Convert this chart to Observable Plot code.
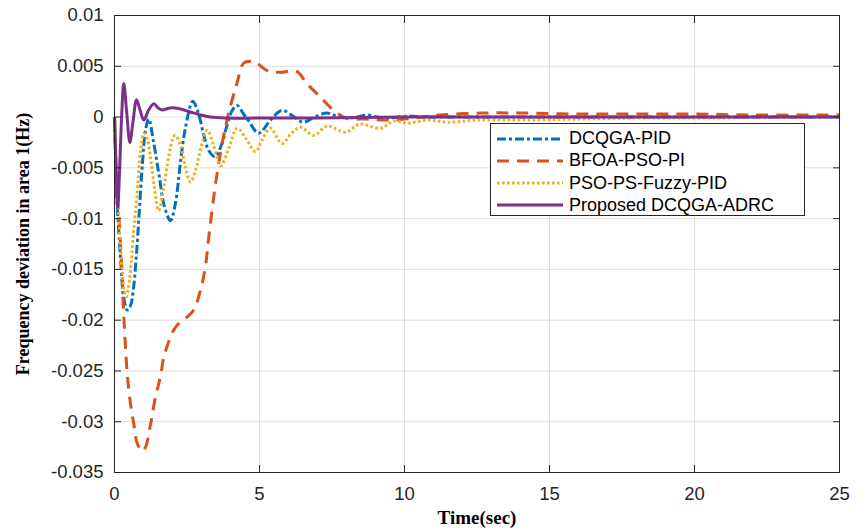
<!DOCTYPE html>
<html>
<head>
<meta charset="utf-8">
<script src="https://cdn.jsdelivr.net/npm/d3@7"></script>
<script src="https://cdn.jsdelivr.net/npm/@observablehq/plot@0.6"></script>
<style>
  html, body { margin: 0; padding: 0; background: #fff; overflow: hidden; }
  #wrap { position: relative; width: 867px; height: 528px; }
  #legend { position: absolute; left: 490px; top: 123px; width: 315px; height: 93px;
            border: 1px solid #262626; background: #fff; box-sizing: border-box;
            font-family: "Liberation Sans", Arial, sans-serif; font-size: 18px; color: #000; }
  .row { position: absolute; left: 0; height: 22px; display: flex; align-items: center; }
  .row svg { margin-left: 6px; margin-right: 6px; }
</style>
</head>
<body>
<div id="wrap">
  <div id="chart"></div>
  <div id="legend"></div>
</div>
<script>
// ---- Data ----
const seriesNames = ["DCQGA-PID", "BFOA-PSO-PI", "PSO-PS-Fuzzy-PID", "Proposed DCQGA-ADRC"];

const tBlue = [0, 0.09, 0.2, 0.32, 0.44, 0.55, 0.65, 0.75, 0.85, 0.96, 1.07, 1.18, 1.35, 1.53, 1.72, 1.93, 2.1, 2.28, 2.45, 2.7, 2.9, 3.08, 3.25, 3.47, 3.68, 3.88, 4.05, 4.22, 4.45, 4.63, 4.97, 5.38, 5.77, 6.15, 6.51, 6.9, 7.32, 7.65, 8.0, 8.35, 8.7, 9.05, 9.4, 9.8, 10.2, 10.6, 11, 12, 14, 16, 18, 20, 22, 25];
const vBlue = [0, -0.0084, -0.0135, -0.0178, -0.019, -0.0186, -0.017, -0.0138, -0.0095, -0.0047, -0.0013, -0.0002, -0.0025, -0.0056, -0.0088, -0.0102, -0.0085, -0.0043, -0.001, 0.00155, 0.0003, -0.0018, -0.0033, -0.0039, -0.0028, -0.0008, 0.0006, 0.00115, 0.0003, -0.0004, -0.0016, -0.0003, 0.00066, 0.0001, -0.0005, 0.0, 0.0004, 0.0001, -0.0001, 0.0, 0.0002, 0.0, -0.0001, 0.0, 0.0001, 0.0, 0, 0, 0, 0, 0, 0, 0, 0];

const tOrange = [0, 0.05, 0.14, 0.25, 0.32, 0.44, 0.55, 0.67, 0.78, 0.95, 1.07, 1.24, 1.41, 1.58, 1.7, 1.81, 1.98, 2.16, 2.5, 2.73, 2.96, 3.13, 3.24, 3.42, 3.59, 3.76, 3.99, 4.22, 4.45, 4.68, 4.91, 5.25, 5.71, 6.28, 6.63, 7.09, 7.54, 8.0, 8.7, 9.5, 10.3, 11.2, 12.7, 14, 16, 18, 20, 22, 25];
const vOrange = [0, -0.005, -0.0092, -0.0148, -0.0195, -0.0253, -0.0282, -0.0303, -0.0321, -0.0329, -0.0325, -0.0303, -0.0276, -0.0256, -0.0236, -0.0226, -0.0213, -0.0205, -0.0197, -0.019, -0.0171, -0.0148, -0.0121, -0.0079, -0.0046, -0.0019, 0.001, 0.0033, 0.0053, 0.0055, 0.0053, 0.0046, 0.0044, 0.0045, 0.0033, 0.002, 0.0007, -0.0001, -0.0002, -0.0003, -0.0001, 0.0002, 0.0004, 0.0004, 0.0003, 0.0003, 0.0003, 0.0002, 0.0002];

const tYellow = [0, 0.08, 0.17, 0.26, 0.33, 0.4, 0.48, 0.57, 0.66, 0.77, 0.9, 1.01, 1.13, 1.25, 1.36, 1.52, 1.7, 1.87, 1.99, 2.1, 2.3, 2.45, 2.62, 2.8, 3.0, 3.2, 3.42, 3.66, 3.95, 4.23, 4.55, 4.86, 5.1, 5.37, 5.78, 6.1, 6.41, 6.87, 7.33, 7.97, 8.45, 9.17, 9.63, 10.1, 10.8, 11.5, 12.5, 14, 16, 18, 20, 25];
const vYellow = [0, -0.006, -0.011, -0.015, -0.0171, -0.0177, -0.0168, -0.0145, -0.0112, -0.0079, -0.0033, -0.0016, -0.0022, -0.0042, -0.0066, -0.0092, -0.0069, -0.0039, -0.0023, -0.0018, -0.003, -0.005, -0.0064, -0.0052, -0.0028, -0.0013, -0.0028, -0.0048, -0.003, -0.0011, -0.0022, -0.0034, -0.0022, -0.0011, -0.0026, -0.0016, -0.001, -0.0018, -0.0009, -0.0015, -0.0007, -0.0011, -0.0004, -0.0006, -0.0003, -0.0005, -0.0003, -0.0003, -0.0002, -0.0001, -0.0001, 0];

const tPurple = [0, 0.05, 0.11, 0.18, 0.25, 0.32, 0.42, 0.53, 0.64, 0.76, 0.88, 1.01, 1.18, 1.36, 1.5, 1.64, 1.93, 2.28, 2.62, 2.97, 3.3, 3.8, 5, 7, 10, 14, 20, 25];
const vPurple = [0, -0.0045, -0.0089, -0.0049, 0.0003, 0.0033, 0.0005, -0.0025, -0.0004, 0.0017, 0.0007, -0.0003, 0.0007, 0.0013, 0.0009, 0.0007, 0.0009, 0.0008, 0.0005, 0.0002, 0.0, -0.0001, -0.0001, -0.0001, 0, 0, 0, 0];

const xTicks = [0, 5, 10, 15, 20, 25];
const yTicks = [-0.035, -0.03, -0.025, -0.02, -0.015, -0.01, -0.005, 0, 0.005, 0.01];

// ---- Styles ----
const colors = ["#0072BD", "#D95319", "#EDB120", "#7E2F8E"];
const dashes = ["9,3,3,3", "12,8", "2.6,2.4", null];
const widths = [3, 3, 3, 3];

const tArr = [tBlue, tOrange, tYellow, tPurple];
const vArr = [vBlue, vOrange, vYellow, vPurple];
const tables = tArr.map((ts, i) => ts.map((t, j) => ({t, v: vArr[i][j]})));

const fmtY = d => d === 0 ? "0" : String(+d.toFixed(4));
const serif = "'Liberation Serif', 'Times New Roman', serif";

const chart = Plot.plot({
  width: 867,
  height: 528,
  marginLeft: 114,
  marginRight: 28,
  marginTop: 15,
  marginBottom: 56,
  style: {fontFamily: "'Liberation Sans', Arial, sans-serif", fontSize: "18px", color: "#262626", background: "#fff"},
  x: {domain: [0, 25]},
  y: {domain: [-0.035, 0.01]},
  marks: [
    Plot.gridX(xTicks, {stroke: "#dedede", strokeOpacity: 1}),
    Plot.gridY(yTicks, {stroke: "#dedede", strokeOpacity: 1}),
    ...tables.map((data, i) => Plot.line(data, {
      x: "t", y: "v", stroke: colors[i], strokeWidth: widths[i],
      strokeDasharray: dashes[i], curve: "catmull-rom", strokeLinecap: "butt"
    })),
    Plot.frame({stroke: "#262626", strokeWidth: 1}),
    Plot.axisX(xTicks, {anchor: "bottom", tickSize: -7, tickPadding: 21, tickFormat: d => String(d), label: null, fontSize: 18.5}),
    Plot.axisY(yTicks, {anchor: "left", tickSize: -7, tickPadding: 18, tickFormat: fmtY, label: null, fontSize: 18.5}),
    Plot.axisX(xTicks, {anchor: "top", tickSize: -7, tickFormat: () => "", label: null}),
    Plot.axisY(yTicks, {anchor: "right", tickSize: -7, tickFormat: () => "", label: null}),
    Plot.text(["Time(sec)"], {text: d => d, frameAnchor: "bottom", dy: 45, textAnchor: "middle", lineAnchor: "middle", fontFamily: serif, fontWeight: "bold", fontSize: 19, fill: "#000"}),
    Plot.text(["Frequency deviation in area 1(Hz)"], {text: d => d, frameAnchor: "left", dx: -91, rotate: -90, textAnchor: "middle", lineAnchor: "middle", fontFamily: serif, fontWeight: "bold", fontSize: 18, fill: "#000"})
  ]
});
document.getElementById("chart").appendChild(chart);

// ---- Legend ----
const legend = document.getElementById("legend");
seriesNames.forEach((name, i) => {
  const row = document.createElement("div");
  row.className = "row";
  row.style.top = (3.5 + i * 22.3) + "px";
  const ns = "http://www.w3.org/2000/svg";
  const svg = document.createElementNS(ns, "svg");
  svg.setAttribute("width", 66);
  svg.setAttribute("height", 10);
  const line = document.createElementNS(ns, "line");
  line.setAttribute("x1", 0); line.setAttribute("x2", 66);
  line.setAttribute("y1", 5); line.setAttribute("y2", 5);
  line.setAttribute("stroke", colors[i]);
  line.setAttribute("stroke-width", widths[i]);
  if (dashes[i]) line.setAttribute("stroke-dasharray", dashes[i]);
  svg.appendChild(line);
  row.appendChild(svg);
  const label = document.createElement("span");
  label.textContent = name;
  row.appendChild(label);
  legend.appendChild(row);
});
</script>
</body>
</html>
